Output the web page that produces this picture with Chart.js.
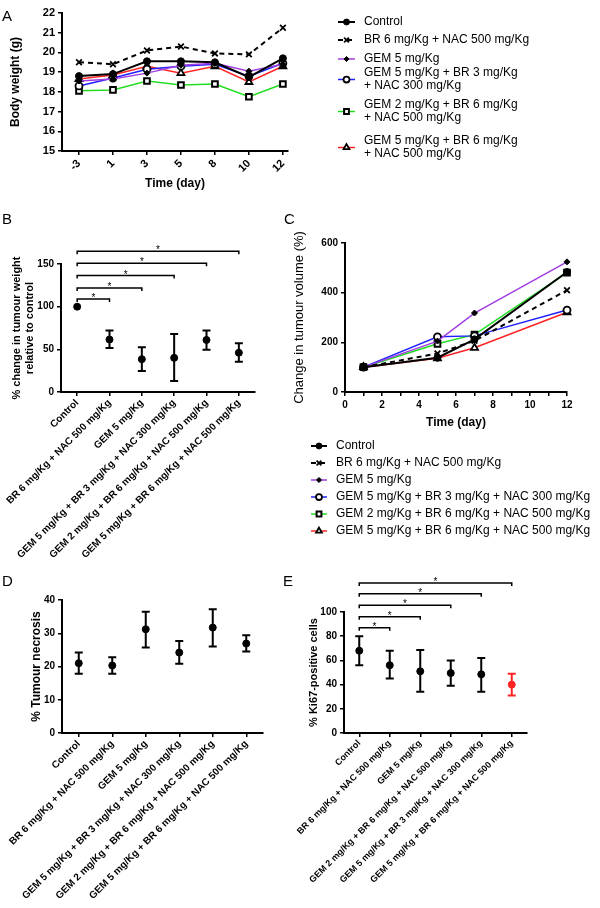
<!DOCTYPE html>
<html>
<head>
<meta charset="utf-8">
<script src="https://cdn.jsdelivr.net/npm/chart.js@4.4.0/dist/chart.umd.min.js"></script>
<style>
  body { margin: 0; background: #fff; }
  #wrap { position: relative; width: 600px; height: 908px; font-family: 'Liberation Sans', Arial, sans-serif; }
  #wrap canvas { position: absolute; }
  .panel { position: absolute; font-size: 15px; line-height: 1; }
</style>
</head>
<body>
<div id="wrap">
  <canvas id="chartA" width="600" height="200" style="left:0;top:0"></canvas>
  <canvas id="chartB" width="290" height="360" style="left:0;top:200px"></canvas>
  <canvas id="chartC" width="310" height="345" style="left:290px;top:200px"></canvas>
  <canvas id="chartD" width="300" height="348" style="left:0;top:560px"></canvas>
  <canvas id="chartE" width="320" height="348" style="left:280px;top:560px"></canvas>
  <div class="panel" style="left:2px;top:8px">A</div>
  <div class="panel" style="left:2px;top:211px">B</div>
  <div class="panel" style="left:284px;top:211px">C</div>
  <div class="panel" style="left:2px;top:573px">D</div>
  <div class="panel" style="left:283px;top:573px">E</div>
</div>
<script>
var groups = [
  'Control',
  'BR 6 mg/Kg + NAC 500 mg/Kg',
  'GEM 5 mg/Kg',
  'GEM 5 mg/Kg + BR 3 mg/Kg + NAC 300 mg/Kg',
  'GEM 2 mg/Kg + BR 6 mg/Kg + NAC 500 mg/Kg',
  'GEM 5 mg/Kg + BR 6 mg/Kg + NAC 500 mg/Kg'
];
var groupsWrapped = [
  ['Control'],
  ['BR 6 mg/Kg + NAC 500 mg/Kg'],
  ['GEM 5 mg/Kg'],
  ['GEM 5 mg/Kg + BR 3 mg/Kg', '+ NAC 300 mg/Kg'],
  ['GEM 2 mg/Kg + BR 6 mg/Kg', '+ NAC 500 mg/Kg'],
  ['GEM 5 mg/Kg + BR 6 mg/Kg', '+ NAC 500 mg/Kg']
];

// A - body weight
var dayLabels = ['-3', '1', '3', '5', '8', '10', '12'];
var weightControl = [18.8, 18.9, 19.55, 19.55, 19.5, 18.75, 19.7];
var weightBR = [19.5, 19.4, 20.1, 20.3, 19.95, 19.9, 21.25];
var weightGem5 = [18.55, 18.65, 18.95, 19.35, 19.45, 19.05, 19.4];
var weightGem5Br3 = [18.3, 18.7, 19.15, 19.3, 19.4, 18.8, 19.45];
var weightGem2Br6 = [18.05, 18.1, 18.55, 18.35, 18.4, 17.75, 18.4];
var weightGem5Br6 = [18.65, 18.85, 19.3, 18.95, 19.3, 18.5, 19.3];

// B - tumour weight relative to control
var tumourWeight = [100, 61.5, 38.5, 40, 61, 46];
var tumourWeightLow = [null, 51.5, 24.5, 13, 49.5, 35.5];
var tumourWeightHigh = [null, 72, 52.5, 68, 72, 57];
var tumourWeightSig = [109, 122, 136.5, 151, 165];

// C - tumour volume
var volumeDays = [1, 5, 7, 12];
var volumeControl = [100, 138, 212, 483];
var volumeBR = [100, 155, 206, 410];
var volumeGem5 = [100, 205, 318, 524];
var volumeGem5Br3 = [100, 222, 226, 330];
var volumeGem2Br6 = [100, 194, 231, 481];
var volumeGem5Br6 = [100, 136, 178, 321];

// D - necrosis
var necrosis = [21, 20.3, 31.2, 24.2, 31.7, 26.9];
var necrosisLow = [17.8, 17.8, 25.7, 20.8, 26, 24.5];
var necrosisHigh = [24.2, 22.8, 36.5, 27.7, 37.2, 29.4];

// E - Ki67
var ki67Labels = [groups[0], groups[1], groups[2], groups[4], groups[3], groups[5]];
var ki67 = [68, 56, 51, 49.5, 48.5, 40];
var ki67Low = [56, 45, 34, 39, 34, 31];
var ki67High = [80, 68, 68.5, 60, 62, 49];
var ki67Sig = [87, 96, 105.5, 115, 124];

var FONT = "'Liberation Sans', Arial, sans-serif";
Chart.defaults.font.family = FONT;
Chart.defaults.color = '#000';
Chart.defaults.animation = false;
Chart.defaults.events = [];

var colors = ['#000000', '#000000', '#A23FE0', '#2020FF', '#22DD22', '#FF2424'];
var styles = [
  { pointStyle: 'circle', radius: 3.5, fill: '#000', width: 1, line: 2, dash: [] },
  { pointStyle: 'crossRot', radius: 4, fill: '#000', width: 1.8, line: 2, dash: [5, 4] },
  { pointStyle: 'rectRot', radius: 3, fill: '#000', width: 1, line: 1.5, dash: [] },
  { pointStyle: 'circle', radius: 3.5, fill: '#fff', width: 1.8, line: 1.5, dash: [] },
  { pointStyle: 'rect', radius: 4, fill: '#fff', width: 2, line: 1.5, dash: [] },
  { pointStyle: 'triangle', radius: 4, fill: '#fff', width: 1.8, line: 1.5, dash: [] }
];

function series(i, values, xs) {
  var s = styles[i];
  return {
    label: groups[i],
    data: values.map(function (v, k) { return { x: xs ? xs[k] : k, y: v }; }),
    borderColor: colors[i],
    borderWidth: s.line,
    borderDash: s.dash,
    pointStyle: s.pointStyle,
    pointRadius: s.radius,
    pointBackgroundColor: s.fill,
    pointBorderColor: '#000',
    pointBorderWidth: s.width,
    clip: false
  };
}

function axis(extra) {
  var a = {
    grid: { display: true, drawOnChartArea: false, drawTicks: true, tickLength: 4, color: '#000', lineWidth: 1.5, offset: false },
    border: { display: true, color: '#000', width: 2 },
    ticks: { padding: 3, font: { size: 10, weight: 'bold' } }
  };
  for (var k in extra) a[k] = extra[k];
  return a;
}

var groupLegend = {
  id: 'groupLegend',
  afterDraw: function (chart, args, opts) {
    if (!opts.items) return;
    var ctx = chart.ctx;
    ctx.save();
    chart.data.datasets.forEach(function (ds, i) {
      var lines = opts.items[i];
      var y0 = opts.ys[i];
      var my = y0 + (lines.length - 1) * opts.lineGap / 2;
      ctx.strokeStyle = ds.borderColor;
      ctx.lineWidth = ds.borderWidth;
      ctx.setLineDash(ds.borderDash || []);
      ctx.beginPath();
      ctx.moveTo(opts.x1, my);
      ctx.lineTo(opts.x2, my);
      ctx.stroke();
      ctx.setLineDash([]);
      ctx.fillStyle = ds.pointBackgroundColor;
      ctx.strokeStyle = ds.pointBorderColor;
      ctx.lineWidth = ds.pointBorderWidth;
      Chart.helpers.drawPoint(ctx, { pointStyle: ds.pointStyle, radius: ds.pointRadius * 0.85, borderWidth: ds.pointBorderWidth, rotation: 0 }, (opts.x1 + opts.x2) / 2, my);
      ctx.fillStyle = '#000';
      ctx.font = opts.font;
      ctx.textBaseline = 'middle';
      ctx.textAlign = 'left';
      lines.forEach(function (t, k) { ctx.fillText(t, opts.textX, y0 + k * opts.lineGap); });
    });
    ctx.restore();
  }
};

var errorBars = {
  id: 'errorBars',
  beforeDatasetsDraw: function (chart, args, opts) {
    if (!opts.low) return;
    var meta = chart.getDatasetMeta(0);
    var y = chart.scales.y;
    var ctx = chart.ctx;
    ctx.save();
    ctx.lineWidth = 2;
    meta.data.forEach(function (pt, i) {
      if (opts.low[i] == null) return;
      var yl = y.getPixelForValue(opts.low[i]);
      var yh = y.getPixelForValue(opts.high[i]);
      ctx.strokeStyle = opts.colors ? opts.colors[i] : '#000';
      ctx.beginPath();
      ctx.moveTo(pt.x, yl); ctx.lineTo(pt.x, yh);
      ctx.moveTo(pt.x - opts.cap, yl); ctx.lineTo(pt.x + opts.cap, yl);
      ctx.moveTo(pt.x - opts.cap, yh); ctx.lineTo(pt.x + opts.cap, yh);
      ctx.stroke();
    });
    ctx.restore();
  }
};

var sigBrackets = {
  id: 'sigBrackets',
  afterDraw: function (chart, args, opts) {
    if (!opts.levels) return;
    var x = chart.scales.x, y = chart.scales.y, ctx = chart.ctx;
    ctx.save();
    ctx.lineWidth = 1.5;
    ctx.strokeStyle = '#000';
    ctx.fillStyle = '#000';
    ctx.font = '10px ' + FONT;
    ctx.textAlign = 'center';
    ctx.textBaseline = 'alphabetic';
    opts.levels.forEach(function (lv, i) {
      var x0 = x.getPixelForValue(0);
      var x1 = x.getPixelForValue(i + 1);
      var yy = y.getPixelForValue(lv);
      ctx.beginPath();
      ctx.moveTo(x0, yy + 3); ctx.lineTo(x0, yy); ctx.lineTo(x1, yy); ctx.lineTo(x1, yy + 3);
      ctx.stroke();
      ctx.fillText('*', (x0 + x1) / 2, yy + 2);
    });
    ctx.restore();
  }
};

// ---- A ----
new Chart(document.getElementById('chartA'), {
  type: 'line',
  data: {
    datasets: [
      series(0, weightControl), series(1, weightBR), series(2, weightGem5),
      series(3, weightGem5Br3), series(4, weightGem2Br6), series(5, weightGem5Br6)
    ]
  },
  plugins: [groupLegend],
  options: {
    responsive: false,
    layout: { padding: { top: 13, right: 312, left: 0, bottom: 0 } },
    plugins: {
      legend: { display: false },
      tooltip: { enabled: false },
      groupLegend: {
        items: groupsWrapped, ys: [22, 40, 59, 73, 105, 141], lineGap: 13,
        x1: 338, x2: 355, textX: 364, font: '12px ' + FONT
      }
    },
    scales: {
      x: axis({
        type: 'linear', min: -0.5, max: 6.15,
        afterFit: function (s) { s.height = 49; },
        ticks: {
          stepSize: 1, autoSkip: false, includeBounds: false, minRotation: 45, maxRotation: 45, padding: 2,
          font: { size: 11, weight: 'bold' },
          callback: function (v) { return dayLabels[v]; }
        },
        title: { display: true, text: 'Time (day)', font: { size: 12, weight: 'bold' }, padding: { top: 0, bottom: 9 } }
      }),
      y: axis({
        min: 15, max: 22,
        afterFit: function (s) { s.width = 62; },
        ticks: { stepSize: 1, padding: 3, font: { size: 11, weight: 'bold' } },
        title: { display: true, text: 'Body weight (g)', font: { size: 12, weight: 'bold' }, padding: { top: 8, bottom: 0 } }
      })
    }
  }
});

// ---- B ----
new Chart(document.getElementById('chartB'), {
  type: 'line',
  data: {
    labels: groups,
    datasets: [{
      label: 'Tumour weight',
      data: tumourWeight,
      showLine: false,
      pointRadius: 3.5,
      pointBackgroundColor: '#000',
      pointBorderColor: '#000',
      clip: false
    }]
  },
  plugins: [errorBars, sigBrackets],
  options: {
    responsive: false,
    layout: { padding: { top: 64, right: 35, left: 0, bottom: 0 } },
    plugins: {
      legend: { display: false },
      tooltip: { enabled: false },
      errorBars: { low: tumourWeightLow, high: tumourWeightHigh, cap: 4 },
      sigBrackets: { levels: tumourWeightSig }
    },
    scales: {
      x: axis({
        offset: true,
        afterFit: function (s) { s.height = 168; },
        ticks: { autoSkip: false, minRotation: 45, maxRotation: 45, padding: 1, font: { size: 10, weight: 'bold' } }
      }),
      y: axis({
        min: 0, max: 150,
        afterFit: function (s) { s.width = 61; },
        ticks: { stepSize: 50, font: { size: 10, weight: 'bold' } },
        title: { display: true, text: ['% change in tumour weight', 'relative to control'], font: { size: 11, weight: 'bold' }, padding: { top: 10, bottom: 0 } }
      })
    }
  }
});

// ---- C ----
new Chart(document.getElementById('chartC'), {
  type: 'line',
  data: {
    datasets: [
      series(0, volumeControl, volumeDays), series(1, volumeBR, volumeDays), series(2, volumeGem5, volumeDays),
      series(3, volumeGem5Br3, volumeDays), series(4, volumeGem2Br6, volumeDays), series(5, volumeGem5Br6, volumeDays)
    ]
  },
  plugins: [groupLegend],
  options: {
    responsive: false,
    layout: { padding: { top: 43, right: 33, left: 0, bottom: 110 } },
    plugins: {
      legend: { display: false },
      tooltip: { enabled: false },
      groupLegend: {
        items: groups.map(function (g) { return [g]; }), ys: [246, 263, 280, 297, 314, 331], lineGap: 13,
        x1: 21, x2: 37, textX: 46, font: '12px ' + FONT
      }
    },
    scales: {
      x: axis({
        type: 'linear', min: 0, max: 12,
        afterFit: function (s) { s.height = 43; },
        ticks: {
          stepSize: 1, autoSkip: false, maxRotation: 0, padding: 3, font: { size: 10, weight: 'bold' },
          callback: function (v) { return v % 2 === 0 ? v : ''; }
        },
        title: { display: true, text: 'Time (day)', font: { size: 12, weight: 'bold' }, padding: { top: 0, bottom: 5 } }
      }),
      y: axis({
        min: 0, max: 600,
        afterFit: function (s) { s.width = 55; },
        ticks: { stepSize: 200, font: { size: 10, weight: 'bold' } },
        title: { display: true, text: 'Change in tumour volume (%)', font: { size: 13 }, padding: { top: 2, bottom: 0 } }
      })
    }
  }
});

// ---- D ----
new Chart(document.getElementById('chartD'), {
  type: 'line',
  data: {
    labels: groups,
    datasets: [{
      label: 'Tumour necrosis',
      data: necrosis,
      showLine: false,
      pointRadius: 3.5,
      pointBackgroundColor: '#000',
      pointBorderColor: '#000',
      clip: false
    }]
  },
  plugins: [errorBars],
  options: {
    responsive: false,
    layout: { padding: { top: 40, right: 37, left: 0, bottom: 0 } },
    plugins: {
      legend: { display: false },
      tooltip: { enabled: false },
      errorBars: { low: necrosisLow, high: necrosisHigh, cap: 4 }
    },
    scales: {
      x: axis({
        offset: true,
        afterFit: function (s) { s.height = 175; },
        ticks: { autoSkip: false, minRotation: 45, maxRotation: 45, padding: 1, font: { size: 10, weight: 'bold' } }
      }),
      y: axis({
        min: 0, max: 40,
        afterFit: function (s) { s.width = 62; },
        ticks: { stepSize: 10, font: { size: 10, weight: 'bold' } },
        title: { display: true, text: '% Tumour necrosis', font: { size: 12, weight: 'bold' }, padding: { top: 29, bottom: 0 } }
      })
    }
  }
});

// ---- E ----
new Chart(document.getElementById('chartE'), {
  type: 'line',
  data: {
    labels: ki67Labels,
    datasets: [{
      label: 'Ki67-positive cells',
      data: ki67,
      showLine: false,
      pointRadius: 3.5,
      pointBackgroundColor: ['#000', '#000', '#000', '#000', '#000', '#FF2424'],
      pointBorderColor: ['#000', '#000', '#000', '#000', '#000', '#FF2424'],
      clip: false
    }]
  },
  plugins: [errorBars, sigBrackets],
  options: {
    responsive: false,
    layout: { padding: { top: 52, right: 73, left: 0, bottom: 0 } },
    plugins: {
      legend: { display: false },
      tooltip: { enabled: false },
      errorBars: { low: ki67Low, high: ki67High, cap: 4, colors: ['#000', '#000', '#000', '#000', '#000', '#FF2424'] },
      sigBrackets: { levels: ki67Sig }
    },
    scales: {
      x: axis({
        offset: true,
        afterFit: function (s) { s.height = 175; },
        ticks: { autoSkip: false, minRotation: 45, maxRotation: 45, padding: 1, font: { size: 9, weight: 'bold' } }
      }),
      y: axis({
        min: 0, max: 100,
        afterFit: function (s) { s.width = 64; },
        ticks: { stepSize: 20, font: { size: 10, weight: 'bold' } },
        title: { display: true, text: '% Ki67-positive cells', font: { size: 11, weight: 'bold' }, padding: { top: 27, bottom: 0 } }
      })
    }
  }
});
</script>
</body>
</html>
